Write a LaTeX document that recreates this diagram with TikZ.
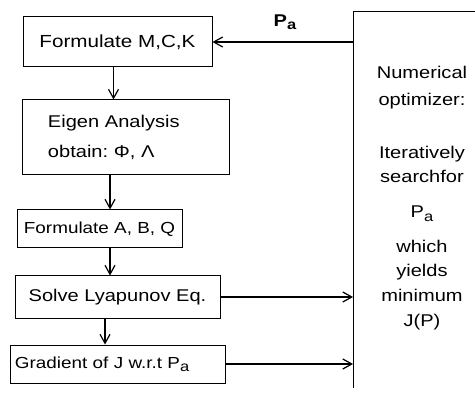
\documentclass[tikz,border=0pt]{standalone}
\usepackage{fontspec}
\setmainfont{Liberation Sans}[FakeStretch=1.18]
\usepackage{tikz}
\usetikzlibrary{arrows.meta}
\tikzset{>={Straight Barb[length=9pt,width=10pt]}}
\tikzset{stepbox/.style={draw, line width=1pt, inner sep=0pt, align=center}}
\newcommand{\Pa}{P\raisebox{-0.35ex}{\fontsize{14}{14}\selectfont a}}

\begin{document}
\begin{tikzpicture}[x=1pt, y=-1pt, line width=1.2pt, font=\fontsize{17}{24}\selectfont]
\useasboundingbox (0,0) rectangle (475,396);
% the chain of steps
\node[stepbox, minimum width=189pt, minimum height=50pt, font=\fontsize{17.5}{24}\selectfont] (mck) at (117.5,42) {Formulate M,C,K};
\node[stepbox, minimum height=75pt, text width=155pt, inner xsep=26pt, align=left, font=\fontsize{17}{30}\selectfont] (eig) at (125.5,137.5) {Eigen Analysis\\obtain:~Φ, Λ};
\node[stepbox, minimum width=165pt, minimum height=38pt, font=\fontsize{16}{20}\selectfont] (abq) at (99.5,229) {Formulate A, B, Q};
\node[stepbox, minimum width=205pt, minimum height=42pt] (lyap) at (117.5,297) {Solve Lyapunov Eq.};
\node[stepbox, minimum height=38pt, text width=205pt, inner xsep=5pt, align=left, font=\fontsize{16}{20}\selectfont] (grad) at (117.5,364) {Gradient of J w.r.t \Pa};
\draw[->] ([xshift=-4pt]mck.south) -- ([xshift=-4pt]mck.south |- eig.north);
\draw[->] ([xshift=-15.5pt]eig.south) -- ([xshift=-15.5pt]eig.south |- abq.north);
\draw[->] ([xshift=10.5pt]abq.south) -- ([xshift=10.5pt]abq.south |- lyap.north);
\draw[->] ([xshift=-12.5pt]lyap.south) -- ([xshift=-12.5pt]lyap.south |- grad.north);
% optimizer
\coordinate (optnw) at (353,12);
\coordinate (optsw) at (353,388);
\coordinate (optne) at (475,12);
\draw[line width=1pt] (optne) -- (optnw) -- (optsw);
\node[anchor=north, inner sep=0pt, align=center] (opt) at (422,66) {Numerical\\[3pt]optimizer:\\[29pt]Iteratively\\searchfor\\[11pt]\Pa\\[11pt]which\\yields\\[1pt]minimum\\[1pt]J(P)};
\draw[->] (mck.east -| optnw) -- (mck.east);
\node (palab) at (285,22) {\bfseries\Pa};
\draw[->] (lyap.east) -- (lyap.east -| optnw);
\draw[->] (grad.east) -- (grad.east -| optnw);
\end{tikzpicture}
\end{document}
